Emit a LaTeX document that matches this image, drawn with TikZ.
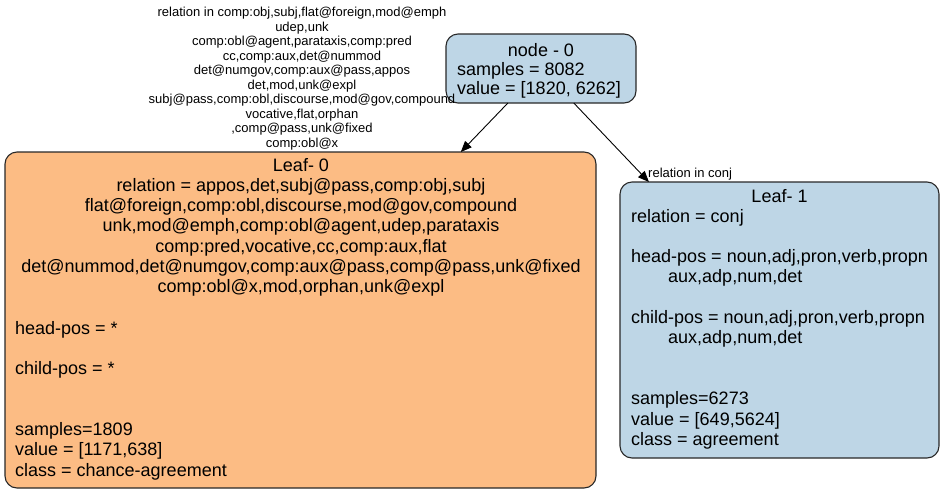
\documentclass[tikz,border=0pt]{standalone}
\usepackage{fontspec}
\setmainfont{Liberation Sans}
\usetikzlibrary{arrows.meta}

\definecolor{splitblue}{RGB}{190,214,230}
\definecolor{leaforange}{RGB}{252,188,132}
\definecolor{edgegray}{RGB}{40,40,40}

% centred and left-aligned line blocks whose baseline is the first line
\newcommand{\cblock}[1]{\vtop{\lineskiplimit=-\maxdimen\halign{\hfil##\hfil\cr#1\crcr}}}
\newcommand{\lblock}[1]{\vtop{\lineskiplimit=-\maxdimen\halign{##\hfil\cr#1\crcr}}}

\begin{document}
\begin{tikzpicture}[x=1pt,y=-1pt,
  treebox/.style={draw=edgegray, line width=1.1pt, rounded corners=12pt,
    inner sep=0pt, outer sep=0pt},
  boxtext/.style={inner sep=0pt, font=\fontsize{18}{20.3}\selectfont},
  toptext/.style={inner sep=0pt, font=\fontsize{18}{19}\selectfont},
  edgetext/.style={inner sep=0pt, font=\fontsize{13}{14.55}\selectfont},
  treeedge/.style={draw=black, line width=0.9pt,
    -{Triangle[length=11pt,width=9pt]}}]

\useasboundingbox (0,0) rectangle (944,493);

% boxes
\node[treebox, fill=splitblue, minimum width=190pt, minimum height=69pt]
  (node0) at (541,68.5) {};
\node[treebox, fill=leaforange, minimum width=591pt, minimum height=336pt]
  (leaf0) at (300.5,320) {};
\node[treebox, fill=splitblue, minimum width=319pt, minimum height=276pt]
  (leaf1) at (779.5,320) {};

% root node text
\node[toptext, anchor=base] (node0title) at (541,56) {node - 0};
\node[toptext, anchor=base west] (node0body) at (457,75)
  {\lblock{samples = 8082\cr value = [1820, 6262]}};

% left leaf text
\node[boxtext, anchor=base] (leaf0rel) at (301,171) {\cblock{%
  Leaf- 0\cr
  relation = appos,det,subj@pass,comp:obj,subj\cr
  flat@foreign,comp:obl,discourse,mod@gov,compound\cr
  unk,mod@emph,comp:obl@agent,udep,parataxis\cr
  comp:pred,vocative,cc,comp:aux,flat\cr
  det@nummod,det@numgov,comp:aux@pass,comp@pass,unk@fixed\cr
  comp:obl@x,mod,orphan,unk@expl}};
\node[boxtext, anchor=base west] (leaf0body) at (15,334) {\lblock{%
  head-pos = *\cr
  \cr
  child-pos = *\cr
  \cr
  \cr
  samples=1809\cr
  value = [1171,638]\cr
  class = chance-agreement}};

% right leaf text
\node[boxtext, anchor=base] (leaf1title) at (779.5,202) {Leaf- 1};
\node[boxtext, anchor=base west] (leaf1body) at (631,222) {\lblock{%
  relation = conj\cr
  \cr
  head-pos = noun,adj,pron,verb,propn\cr
  \hspace*{37pt}aux,adp,num,det\cr
  \cr
  child-pos = noun,adj,pron,verb,propn\cr
  \hspace*{37pt}aux,adp,num,det\cr
  \cr
  \cr
  samples=6273\cr
  value = [649,5624]\cr
  class = agreement}};

% connectors and their labels
\draw[treeedge] (node0) -- (leaf0);
\draw[treeedge] (node0) -- (leaf1);

\node[edgetext, anchor=base] (leftlabel) at (302,16.5) {\cblock{%
  relation in comp:obj,subj,flat@foreign,mod@emph\cr
  udep,unk\cr
  comp:obl@agent,parataxis,comp:pred\cr
  cc,comp:aux,det@nummod\cr
  det@numgov,comp:aux@pass,appos\cr
  det,mod,unk@expl\cr
  subj@pass,comp:obl,discourse,mod@gov,compound\cr
  vocative,flat,orphan\cr
  ,comp@pass,unk@fixed\cr
  comp:obl@x}};
\node[edgetext, anchor=base west] (rightlabel) at (648,177.5) {relation in conj};

\end{tikzpicture}
\end{document}
